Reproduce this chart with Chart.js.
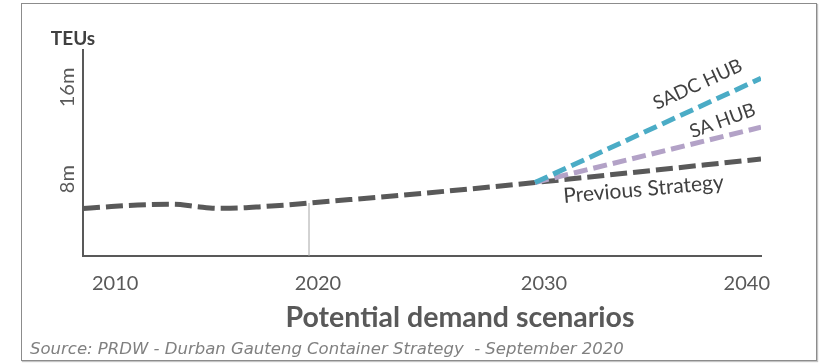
<!DOCTYPE html>
<html>
<head>
<meta charset="utf-8">
<script src="https://cdn.jsdelivr.net/npm/chart.js@4.4.1/dist/chart.umd.min.js"></script>
<style>
  html, body { margin: 0; padding: 0; background: #fff; }
  #wrap { position: relative; width: 828px; height: 363px; }
  #frame { position: absolute; left: 21px; top: 3px; width: 794px; height: 356px; border: 1px solid #8c8c8c; box-shadow: 1px 1px 1px #c4c4c4; pointer-events: none; }
  canvas { position: absolute; left: 0; top: 0; }
</style>
</head>
<body>
<div id="wrap">
  <canvas id="demandChart" width="828" height="363"></canvas>
  <div id="frame"></div>
</div>
<script>
// million TEUs
const years = [2010, 2011, 2012, 2013, 2014, 2015, 2016, 2017, 2018, 2019, 2020, 2025, 2030, 2040];
const previousStrategy = [5.44, 5.58, 5.71, 5.79, 5.81, 5.62, 5.46, 5.49, 5.62, 5.75, 5.92, 6.76, 7.71, 9.76];
const hubYears = [2030, 2040];
const sadcHub = [7.71, 16.8];
const saHub = [7.71, 12.53];
const xTicks = [2010, 2020, 2030, 2040];
const yTicks = [8, 16];
const markerYear = 2020;
const yMin = 1.3;
const yMax = 19.27;

const sourceText = "Source: PRDW - Durban Gauteng Container Strategy  - September 2020";

const toPoints = (xs, ys) => xs.map((x, i) => ({ x: x, y: ys[i] }));

// line value at a given year (straight-line between known points)
function valueAt(xs, ys, year) {
    for (let i = 0; i < xs.length - 1; i++) {
        if (year >= xs[i] && year <= xs[i + 1]) {
            const t = (year - xs[i]) / (xs[i + 1] - xs[i]);
            return ys[i] + t * (ys[i + 1] - ys[i]);
        }
    }
    return ys[ys.length - 1];
}

const notes = [
    { text: "SADC HUB", xs: hubYears, ys: sadcHub, year: 2037.2, dy: -23, angle: -24.5, size: 19 },
    { text: "SA HUB", xs: hubYears, ys: saHub, year: 2038.3, dy: -16, angle: -20, size: 19 },
    { text: "Previous Strategy", xs: years, ys: previousStrategy, year: 2034.8, dy: 18, angle: -5, size: 21 }
];

const textPlugin = {
    id: "textPlugin",
    afterDraw(chart) {
        const ctx = chart.ctx;
        const x = chart.scales.x;
        const y = chart.scales.y;
        ctx.save();
        ctx.textAlign = "center";
        ctx.textBaseline = "middle";
        ctx.fillStyle = "#404040";
        notes.forEach(n => {
            const px = x.getPixelForValue(n.year);
            const py = y.getPixelForValue(valueAt(n.xs, n.ys, n.year)) + n.dy;
            ctx.save();
            ctx.font = n.size + "px Lato";
            ctx.translate(px, py);
            ctx.rotate(n.angle * Math.PI / 180);
            ctx.fillText(n.text, 0, 0);
            ctx.restore();
        });

        ctx.font = "bold 19px Lato";
        ctx.fillStyle = "#404040";
        ctx.fillText("TEUs", x.left - 10, y.top - 11);

        ctx.font = "bold 28.5px Lato";
        ctx.fillStyle = "#595959";
        ctx.fillText("Potential demand scenarios", 460, 318);

        ctx.textAlign = "left";
        ctx.font = "italic 16.5px 'DejaVu Sans'";
        ctx.fillStyle = "#808080";
        ctx.fillText(sourceText, 30, 350);
        ctx.restore();
    }
};

Chart.defaults.font.family = "Lato";

new Chart(document.getElementById("demandChart"), {
    type: "line",
    data: {
        datasets: [{
            label: "SADC HUB",
            data: toPoints(hubYears, sadcHub),
            borderColor: "#4BACC6",
            borderWidth: 5,
            borderDash: [14, 6],
            pointRadius: 0
        }, {
            label: "SA HUB",
            data: toPoints(hubYears, saHub),
            borderColor: "#B3A2C7",
            borderWidth: 5,
            borderDash: [14, 6],
            pointRadius: 0
        }, {
            label: "Previous Strategy",
            data: toPoints(years, previousStrategy),
            borderColor: "#595959",
            borderWidth: 5,
            borderDash: [17, 6],
            cubicInterpolationMode: "monotone",
            pointRadius: 0
        }, {
            label: "Today",
            data: [{ x: markerYear, y: yMin }, { x: markerYear, y: valueAt(years, previousStrategy, markerYear) }],
            borderColor: "#a6a6a6",
            borderWidth: 1,
            pointRadius: 0
        }]
    },
    options: {
        responsive: false,
        animation: false,
        layout: { padding: { left: 0, top: 50, right: 67, bottom: 0 } },
        plugins: {
            legend: { display: false },
            tooltip: { enabled: false }
        },
        scales: {
            x: {
                type: "linear",
                min: 2010,
                max: 2040,
                afterBuildTicks: s => { s.ticks = xTicks.map(v => ({ value: v })); },
                afterFit: s => { s.height = 107; },
                ticks: {
                    align: "inner",
                    labelOffset: 9,
                    padding: 16,
                    maxRotation: 0,
                    color: "#595959",
                    font: { size: 20 },
                    callback: v => String(v)
                },
                grid: { display: false, drawTicks: false },
                border: { display: true, color: "#595959", width: 2 }
            },
            y: {
                type: "linear",
                min: yMin,
                max: yMax,
                afterBuildTicks: s => { s.ticks = yTicks.map(v => ({ value: v })); },
                afterFit: s => { s.width = 83; },
                ticks: {
                    minRotation: 90,
                    maxRotation: 90,
                    crossAlign: "center",
                    padding: -4,
                    color: "#595959",
                    font: { size: 20 },
                    callback: v => v + "m"
                },
                grid: { display: false, drawTicks: false },
                border: { display: true, color: "#595959", width: 2 }
            }
        }
    },
    plugins: [textPlugin]
});
</script>
</body>
</html>
